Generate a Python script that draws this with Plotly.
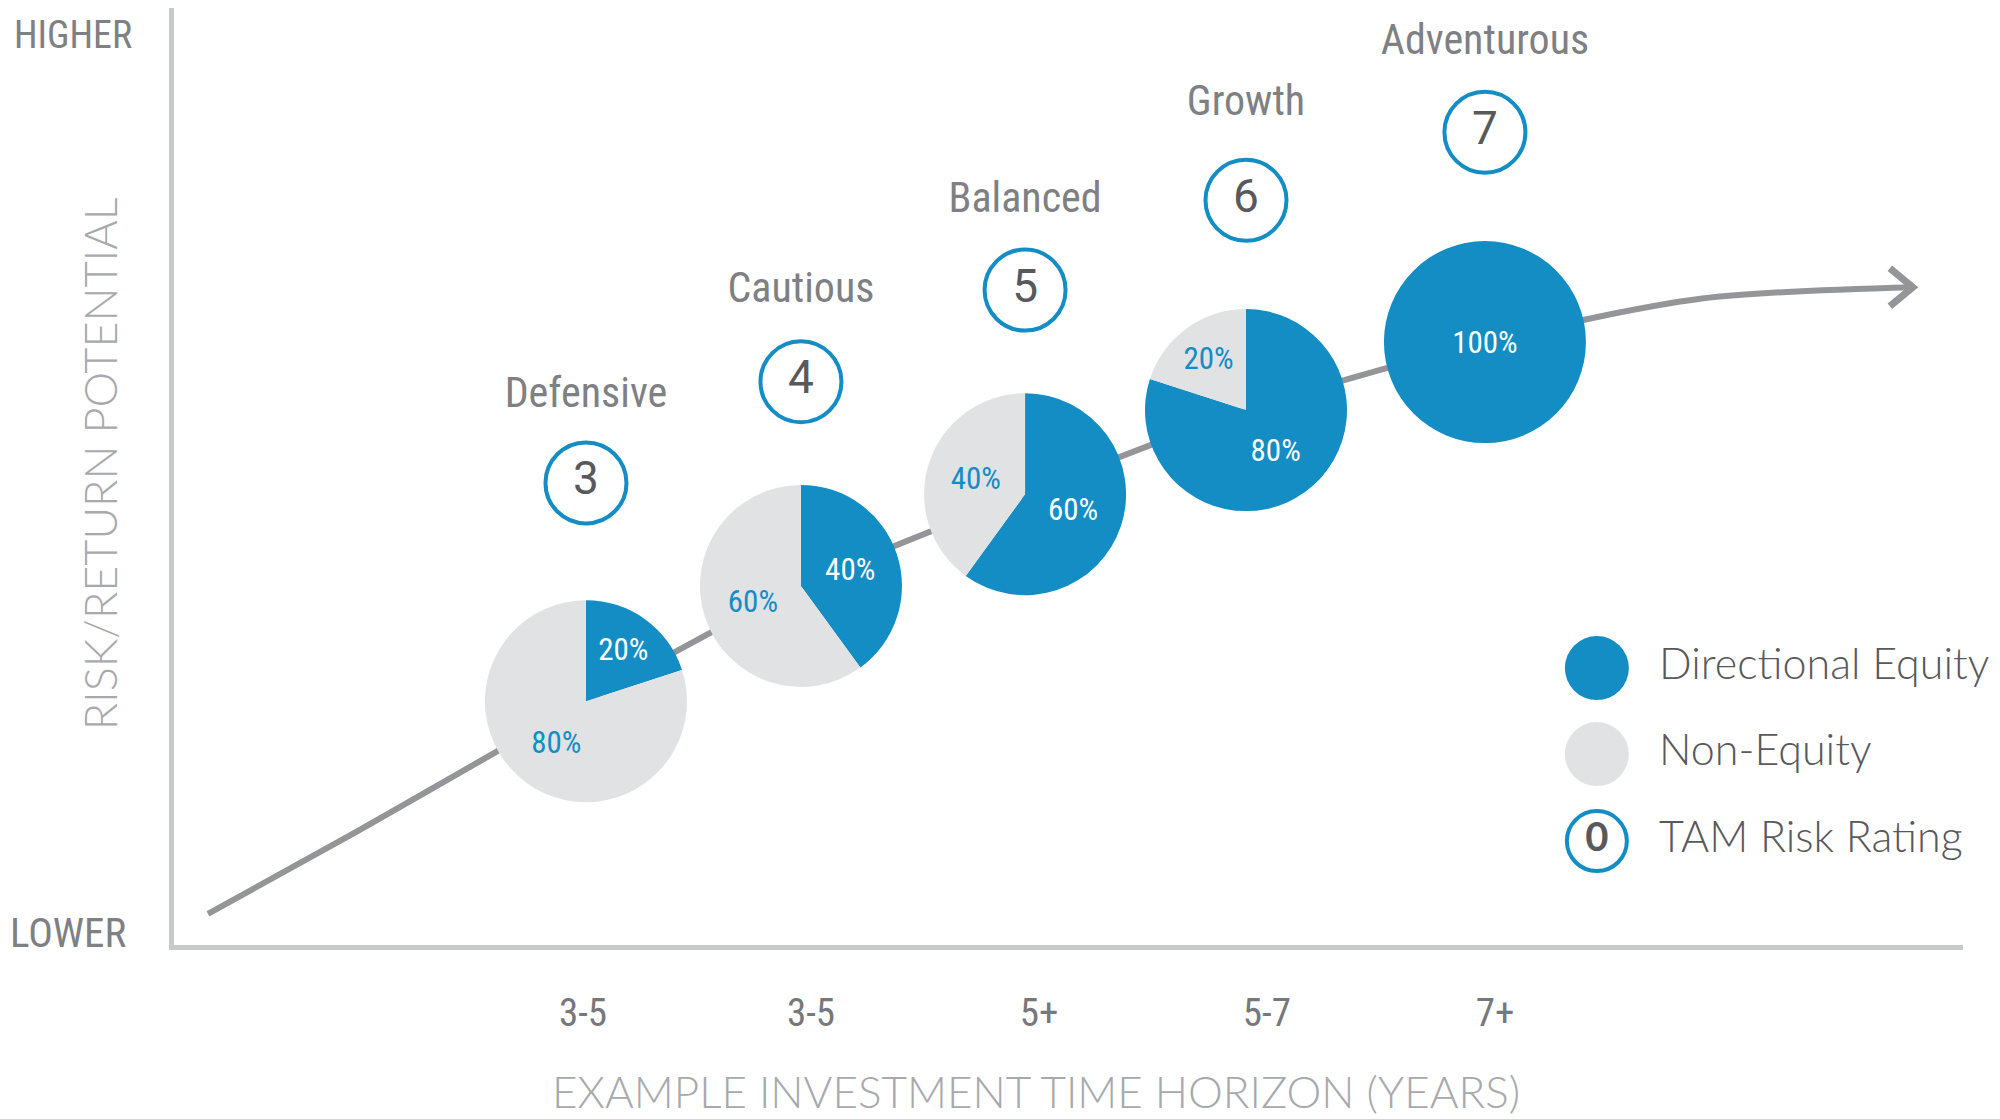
import plotly.graph_objects as go

#------------------------------------------------------------------------------#
#     values                                              #
#------------------------------------------------------------------------------#
profiles = ['Defensive', 'Cautious', 'Balanced', 'Growth', 'Adventurous']
ratings = ['3', '4', '5', '6', '7']
horizons = ['3-5', '3-5', '5+', '5-7', '7+']
equity_pct = [20, 40, 60, 80, 100]

# x in units of the time-horizon ticks (0..4), y on a 0-100 risk scale
pie_x = [0.013, 0.956, 1.939, 2.908, 3.956]
pie_y = [25.8, 38.0, 47.7, 56.6, 63.8]
rating_y = [48.9, 59.6, 69.3, 78.8, 86.0]
name_y = [58.0, 69.2, 78.7, 88.9, 95.4]

curve_x = [-1.645, -1.044, 0.013, 0.956, 1.939, 2.908, 3.956, 4.908, 5.833]
curve_y = [3.3, 11.3, 25.8, 38.0, 47.7, 56.6, 63.8, 68.4, 69.6]

legend_labels = ['Directional Equity', 'Non-Equity', 'TAM Risk Rating']
legend_y = [29.3, 20.2, 11.0]
legend_x = 4.447
legend_text_x = 4.72

#------------------------------------------------------------------------------#
#     styling / geometry (page body adds an 8px offset, so figure is 8px less) #
#------------------------------------------------------------------------------#
BLUE = '#138DC4'
PIE_GREY = '#E1E2E4'
CURVE_GREY = '#939598'
AXIS_GREY = '#C8C9CB'
COND = 'Roboto Condensed, Liberation Sans Narrow, DejaVu Sans Condensed, Roboto, sans-serif'
LIGHT = 'Lato, Open Sans, sans-serif'

W, H = 1992, 1111
ML, MR, MT, MB = 166, 37, 0, 174
X_RANGE = [-1.794, 6.053]
Y_RANGE = [0, 99.15]
PIE_R = 101  # px

plot_w = W - ML - MR
plot_h = H - MT - MB


def to_paper_x(v):
    return (v - X_RANGE[0]) / (X_RANGE[1] - X_RANGE[0])


def to_paper_y(v):
    return (v - Y_RANGE[0]) / (Y_RANGE[1] - Y_RANGE[0])


fig = go.Figure()

#------------------------------------------------------------------------------#
#     risk/return curve                                                        #
#------------------------------------------------------------------------------#
fig.add_trace(go.Scatter(
    x=curve_x, y=curve_y, mode='lines',
    line=dict(color=CURVE_GREY, width=6, shape='spline', smoothing=0.8),
    hoverinfo='skip', showlegend=False
))

#------------------------------------------------------------------------------#
#     one pie per profile                                                      #
#------------------------------------------------------------------------------#
rx = PIE_R / plot_w
ry = PIE_R / plot_h
for px_, py_, eq in zip(pie_x, pie_y, equity_pct):
    cx, cy = to_paper_x(px_), to_paper_y(py_)
    vals = [eq, 100 - eq]
    fig.add_trace(go.Pie(
        values=vals,
        text=[f'{v}%' if v else '' for v in vals],
        textinfo='text',
        textposition='inside',
        insidetextorientation='horizontal',
        insidetextfont=dict(family=COND, size=31, color=['white', BLUE]),
        sort=False, direction='clockwise', rotation=0,
        marker=dict(colors=[BLUE, PIE_GREY], line=dict(width=0)),
        domain=dict(x=[cx - rx, cx + rx], y=[cy - ry, cy + ry]),
        hoverinfo='skip', showlegend=False
    ))

#------------------------------------------------------------------------------#
#     rating circles and profile names                                         #
#------------------------------------------------------------------------------#
fig.add_trace(go.Scatter(
    x=pie_x, y=rating_y, mode='markers+text',
    text=ratings, textposition='middle center',
    textfont=dict(family='Roboto, sans-serif', size=46, color='#58595B'),
    marker=dict(size=81, color='white', opacity=1,
                line=dict(color=BLUE, width=4)),
    cliponaxis=False, hoverinfo='skip', showlegend=False
))
fig.add_trace(go.Scatter(
    x=pie_x, y=name_y, mode='text',
    text=profiles, textposition='middle center',
    textfont=dict(family=COND, size=42, color='#7F8083'),
    cliponaxis=False, hoverinfo='skip', showlegend=False
))

#------------------------------------------------------------------------------#
#     hand-made legend                                                         #
#------------------------------------------------------------------------------#
fig.add_trace(go.Scatter(
    x=[legend_x] * 3, y=legend_y, mode='markers+text',
    text=['', '', '0'], textposition='middle center',
    textfont=dict(family='Lato, sans-serif', size=40, color='#58595B', weight='bold'),
    marker=dict(size=[64, 64, 60], color=[BLUE, PIE_GREY, 'white'], opacity=1,
                line=dict(color=[BLUE, PIE_GREY, BLUE], width=[0, 0, 4])),
    cliponaxis=False, hoverinfo='skip', showlegend=False
))
fig.add_trace(go.Scatter(
    x=[legend_text_x] * 3, y=legend_y, mode='text',
    text=legend_labels, textposition='middle right',
    textfont=dict(family=LIGHT, size=43, color='#58595B', weight=300),
    cliponaxis=False, hoverinfo='skip', showlegend=False
))

#------------------------------------------------------------------------------#
#     arrow head at the end of the curve                                       #
#------------------------------------------------------------------------------#
fig.add_shape(
    type='path', xref='x', yref='y',
    xsizemode='pixel', ysizemode='pixel',
    xanchor=curve_x[-1], yanchor=curve_y[-1],
    path='M -23 19 L 0 0 L -23 -19',
    line=dict(color=CURVE_GREY, width=7)
)

#------------------------------------------------------------------------------#
#     axis end labels and titles                                               #
#------------------------------------------------------------------------------#
fig.add_annotation(
    text='HIGHER', x=0, y=1, xref='paper', yref='paper',
    xanchor='right', yanchor='top', xshift=-40, yshift=-3, showarrow=False,
    font=dict(family=COND, size=38, color='#7F8083')
)
fig.add_annotation(
    text='LOWER', x=0, y=0.0128, xref='paper', yref='paper',
    xanchor='right', yanchor='middle', xshift=-46, showarrow=False,
    font=dict(family=COND, size=41, color='#7F8083')
)
fig.add_annotation(
    text='RISK/RETURN POTENTIAL', textangle=-90,
    x=0, y=0.513, xref='paper', yref='paper', xshift=-74,
    xanchor='center', yanchor='middle', showarrow=False,
    font=dict(family=LIGHT, size=45, color='#A7A9AC', weight=300)
)
fig.add_annotation(
    text='EXAMPLE INVESTMENT TIME HORIZON (YEARS)',
    x=0.482, y=-MB / plot_h, xref='paper', yref='paper',
    xanchor='center', yanchor='bottom', showarrow=False,
    font=dict(family=LIGHT, size=44, color='#A7A9AC', weight=300)
)

fig.update_layout(
    width=W, height=H,
    margin=dict(l=ML, r=MR, t=MT, b=MB),
    paper_bgcolor='white', plot_bgcolor='white',
    showlegend=False,
    xaxis=dict(
        range=X_RANGE, showgrid=False, zeroline=False,
        showline=True, linecolor=AXIS_GREY, linewidth=5,
        tickvals=list(range(len(horizons))), ticktext=horizons,
        ticks='outside', ticklen=29, tickcolor='rgba(0,0,0,0)',
        tickfont=dict(family=COND, size=39, color='#77787B'),
        fixedrange=True
    ),
    yaxis=dict(
        range=Y_RANGE, showgrid=False, zeroline=False,
        showline=True, linecolor=AXIS_GREY, linewidth=5,
        showticklabels=False, ticks='', fixedrange=True
    )
)

fig.write_html('out.html')
